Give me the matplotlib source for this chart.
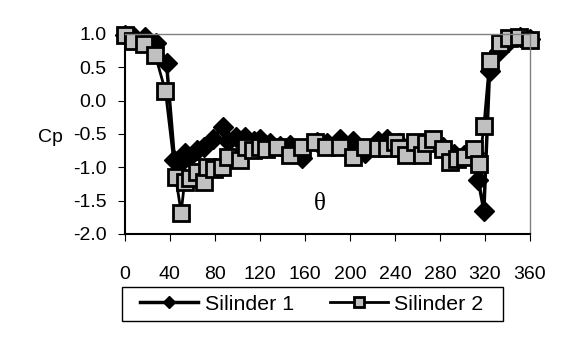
import matplotlib.pyplot as plt
from matplotlib.patches import Rectangle

# Silinder 1 (diamonds)
theta1 = [0, 8, 18, 28, 37, 44, 48, 53, 57, 64, 70, 78, 87, 92, 99, 107, 115, 120,
          129, 138, 147, 157, 171, 180, 191, 203, 213, 225, 233, 244, 252, 262, 274,
          283, 292, 301, 310, 314, 319, 324, 332, 341, 351, 360]
cp1 = [0.98, 0.95, 0.95, 0.86, 0.56, -0.89, -0.95, -0.79, -0.85, -0.74, -0.69, -0.57,
       -0.39, -0.60, -0.55, -0.55, -0.60, -0.58, -0.64, -0.68, -0.66, -0.86, -0.62,
       -0.64, -0.58, -0.60, -0.78, -0.60, -0.57, -0.63, -0.70, -0.68, -0.60, -0.70,
       -0.80, -0.82, -0.78, -1.19, -1.65, 0.44, 0.74, 0.90, 0.96, 0.93]

# Silinder 2 (squares)
theta2 = [0, 7, 17, 27, 36, 45, 50, 53, 58, 64, 70, 73, 79, 86, 92, 102, 108, 114,
          120, 125, 135, 147, 157, 169, 179, 191, 203, 213, 225, 233, 240, 244, 250,
          258, 264, 268, 274, 283, 289, 295, 302, 310, 315, 319, 324, 333, 341, 350, 360]
cp2 = [0.98, 0.89, 0.85, 0.68, 0.14, -1.14, -1.68, -1.22, -1.16, -1.07, -1.22, -0.99,
       -1.02, -0.99, -0.84, -0.89, -0.69, -0.74, -0.70, -0.72, -0.69, -0.82, -0.69,
       -0.62, -0.69, -0.69, -0.84, -0.69, -0.71, -0.71, -0.62, -0.71, -0.82, -0.62,
       -0.82, -0.64, -0.57, -0.72, -0.92, -0.87, -0.84, -0.72, -0.95, -0.38, 0.59,
       0.86, 0.94, 0.96, 0.91]

xticks = list(range(0, 361, 40))
yticks = [1.0, 0.5, 0.0, -0.5, -1.0, -1.5, -2.0]

plt.rcParams["font.family"] = ["Liberation Sans", "DejaVu Sans"]

W, H = 573, 342
fig = plt.figure(figsize=(W / 100, H / 100), dpi=100)
ax = fig.add_axes([0.218, 0.316, 0.707, 0.585])

ax.plot(theta1, cp1, color="black", lw=2.5, marker="D", ms=10, mfc="black",
        mec="black", label="Silinder 1", clip_on=False)
ax.plot(theta2, cp2, color="black", lw=2, marker="s", ms=11, mfc="#c0c0c0",
        mec="black", mew=2, label="Silinder 2", clip_on=False)

ax.set_xlim(0, 360)
ax.set_ylim(-2.0, 1.0)
ax.set_xticks(xticks)
ax.set_yticks(yticks)
ax.set_yticklabels([f"{v:.1f}" for v in yticks])
ax.tick_params(axis="x", direction="out", length=5, pad=18, labelsize=14)
ax.tick_params(axis="y", direction="out", length=5, pad=8, labelsize=14)

for s in ("top", "right"):
    ax.spines[s].set_color("#808080")
    ax.spines[s].set_linewidth(1)
for s in ("left", "bottom"):
    ax.spines[s].set_color("black")
    ax.spines[s].set_linewidth(1.5)

ax.text(173, -1.55, "θ", fontsize=18, ha="center", va="center",
        family=["Liberation Serif", "DejaVu Serif"])
fig.text(0.066, 1 - 137 / H, "Cp", fontsize=14, ha="left", va="center")

# legend box drawn separately to get the wide side padding
fig.patches.append(Rectangle((122 / W, 1 - 321 / H), 381 / W, 34 / H,
                             transform=fig.transFigure, fill=False,
                             edgecolor="black", linewidth=1))
fig.legend(loc="center", bbox_to_anchor=(312 / W, 1 - 304 / H), ncol=2,
           fontsize=15.4, markerscale=0.65, frameon=False,
           handlelength=2.7, columnspacing=1.7, handletextpad=0.3)

fig.savefig("out.png", dpi=100)
plt.close(fig)
